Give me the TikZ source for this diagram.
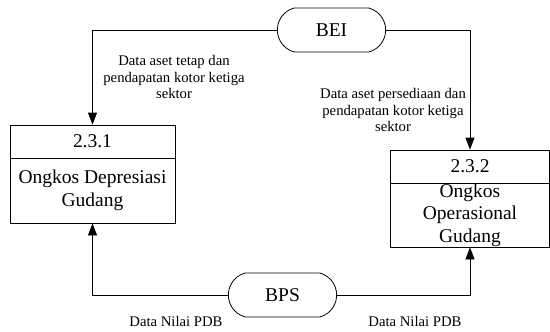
\documentclass[tikz,border=0pt]{standalone}
\usepackage{fontspec}
\setmainfont{Liberation Serif}
\usetikzlibrary{arrows.meta,shapes.misc}

\tikzset{
  proc/.style={draw, line width=0.8pt, minimum width=165pt, inner sep=0pt,
    align=center, font=\fontsize{19.5}{22.5}\selectfont},
  ext/.style={draw, rounded rectangle, rounded rectangle arc length=150,
    line width=0.8pt, minimum width=115pt, minimum height=44pt,
    font=\fontsize{19.5}{22.5}\selectfont},
  flow/.style={-{Triangle[length=12pt,width=9pt]}, line width=0.8pt},
  lbl/.style={align=center, font=\fontsize{14.7}{16.8}\selectfont}
}

\begin{document}
\begin{tikzpicture}[x=1pt, y=-1pt]
  \useasboundingbox (0,0) rectangle (550,332);

  % external entities
  \node[ext] (bei) at (331.5,30) {BEI};
  \node[ext] (bps) at (282.5,295) {BPS};

  % processes
  \node[proc, minimum height=33pt] (hdrA) at (92.5,141.5) {2.3.1};
  \node[proc, minimum height=65pt] (bodyA) at (92.5,190.5) {Ongkos Depresiasi\\Gudang};
  \node[proc, minimum width=159pt, minimum height=33pt] (hdrB) at (470,166.5) {2.3.2};
  \node[proc, minimum width=159pt, minimum height=64pt] (bodyB) at (470,215) {Ongkos\\Operasional\\Gudang};

  % data flows
  \draw[flow] (bei.west) -| (hdrA.north);
  \draw[flow] (bei.east) -| (hdrB.north);
  \draw[flow] (bps.west) -| (bodyA.south);
  \draw[flow] (bps.east) -| (bodyB.south);

  % flow labels
  \node[lbl] (asetA) at (174,77) {Data aset tetap dan\\pendapatan kotor ketiga\\sektor};
  \node[lbl] (asetB) at (393,110) {Data aset persediaan dan\\pendapatan kotor ketiga\\sektor};
  \node[lbl] (pdbA) at (176,321) {Data Nilai PDB};
  \node[lbl] (pdbB) at (415,321) {Data Nilai PDB};
\end{tikzpicture}
\end{document}
